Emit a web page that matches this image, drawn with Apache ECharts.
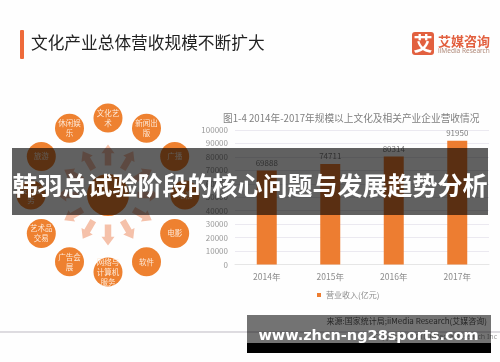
<!DOCTYPE html>
<html><head><meta charset="utf-8">
<style>html,body{margin:0;padding:0;background:#fff}#c{width:500px;height:362px;filter:blur(0.4px)}</style>
<script src="https://cdn.jsdelivr.net/npm/echarts@6/dist/echarts.min.js"></script>
</head><body><div id="c"></div>
<script>
const years=['2014年','2015年','2016年','2017年'];
const revenue=[69888,74711,80314,91950];
const yTicks={min:0,max:100000,interval:10000};
const sectors=['文化艺\n术','新闻出\n版','广播','电视','电影','软件','网络与\n计算机\n服务','广告会\n展','艺术品\n交易','设计服\n务','旅游','休闲娱\n乐'];
const ringRadius=[77,77,77,77,77,77,77,77,77,77,77,77];
const arrowRadius=[40,40,40,40,40,40,40,40,40,40,40,40];
const CJK='"Noto Sans CJK SC","Noto Sans",sans-serif';
const ARROW='path://M3.5 24 L3.5 10 L0 10 L7 0 L14 10 L10.5 10 L10.5 24 Z';
const chart=echarts.init(document.getElementById('c'),null,{renderer:'canvas'});
chart.setOption({
  animation:false,backgroundColor:'#fefefe',
  textStyle:{fontFamily:CJK},
  title:{text:'图1-4 2014年-2017年规模以上文化及相关产业企业营收情况',left:218,top:108,
    textStyle:{fontSize:9.7,fontWeight:'normal',color:'#808080',fontFamily:CJK}},
  grid:{left:235,right:11,top:130,bottom:97.5},
  xAxis:{type:'category',data:years,axisLine:{lineStyle:{color:'#e6e6e6'}},axisTick:{show:false},
    axisLabel:{color:'#8c8c8c',fontSize:8.5,margin:8}},
  yAxis:{type:'value',min:yTicks.min,max:yTicks.max,interval:yTicks.interval,axisLine:{show:false},axisTick:{show:false},
    splitLine:{lineStyle:{color:'#ebe9f0'}},axisLabel:{color:'#999',fontSize:8,margin:7,formatter:v=>String(v)}},
  legend:{data:['营业收入(亿元)'],left:312,top:286,itemWidth:4,itemHeight:4,itemGap:3,icon:'rect',
    textStyle:{color:'#8c8c8c',fontSize:8}},
  polar:{center:[108,195],radius:[0,100]},
  angleAxis:{type:'category',data:sectors,startAngle:105,clockwise:true,show:false},
  radiusAxis:{type:'value',min:0,max:100,show:false},
  series:[
    {name:'营业收入(亿元)',type:'bar',data:revenue,barWidth:20,itemStyle:{color:'#ed7d31'},
      label:{show:true,position:'top',color:'#808080',fontSize:8,distance:4}},
    {type:'scatter',coordinateSystem:'polar',symbol:ARROW,symbolSize:[13,21],
      data:arrowRadius.map((r,i)=>({value:[r,i],symbolRotate:-30*i})),
      itemStyle:{color:'#f5c1aa',opacity:1},silent:true,z:2},
    {type:'scatter',coordinateSystem:'polar',symbolSize:29,
      data:ringRadius.map((r,i)=>[r,i]),
      itemStyle:{color:'#ee8130',opacity:1},z:3,
      label:{show:true,position:'inside',color:'#fde8d6',fontSize:7.5,lineHeight:10,
        formatter:p=>sectors[p.dataIndex]}},
    {type:'scatter',coordinateSystem:'polar',symbolSize:42,data:[[0,0]],
      itemStyle:{color:'#ee8130',opacity:1},z:3}
  ],
  graphic:[
    {type:'rect',z:50,shape:{x:20,y:30,width:4,height:29,r:1},style:{fill:'#ee6a3a'}},
    {type:'text',z:50,style:{x:31,y:43,text:'文化产业总体营收规模不断扩大',font:'16.7px "Noto Sans CJK SC"',fill:'#222',textVerticalAlign:'middle'}},
    {type:'rect',z:50,shape:{x:412,y:32,width:22,height:23,r:3},style:{fill:'#e2603f'}},
    {type:'text',z:51,style:{x:423,y:43.5,text:'艾',font:'bold 19px "Noto Sans CJK SC"',fill:'#fff',textAlign:'center',textVerticalAlign:'middle'}},
    {type:'text',z:50,style:{x:438,y:41,text:'艾媒咨询',font:'bold 13px "Noto Sans CJK SC"',fill:'#e2603f',textVerticalAlign:'middle'}},
    {type:'text',z:50,style:{x:438,y:51,text:'iiMedia Research',font:'6.5px "Noto Sans"',fill:'#b08a7a',textVerticalAlign:'middle'}},
    {type:'line',z:49,shape:{x1:0,y1:332,x2:500,y2:332},style:{stroke:'#bdb9c2',lineWidth:1}},
    {type:'text',z:49,style:{x:497,y:336.5,text:'Copyright©2018 iiMedia Research Inc',font:'7px "Noto Sans"',fill:'#999',textAlign:'right',textVerticalAlign:'middle'}},
    {type:'text',z:49,style:{x:487,y:320.5,text:'来源:国家统计局;iiMedia Research(艾媒咨询)',font:'8px "Noto Sans CJK SC"',fill:'#555',textAlign:'right',textVerticalAlign:'middle'}},
    {type:'rect',z:60,shape:{x:12,y:148,width:476,height:67},style:{fill:'rgba(0,0,0,0.62)'}},
    {type:'text',z:61,style:{x:250,y:185,text:'韩羽总试验阶段的核心问题与发展趋势分析',font:'bold 25px "Noto Sans CJK SC"',fill:'#fff',textAlign:'center',textVerticalAlign:'middle'}},
    {type:'rect',z:60,shape:{x:247,y:315,width:244,height:28},style:{fill:'rgba(0,0,0,0.55)'}},
    {type:'rect',z:60,shape:{x:247,y:343,width:244,height:10},style:{fill:'#000'}},
    {type:'text',z:61,style:{x:368.5,y:336.5,text:'www.zhcn-ng28sports.com',font:'bold 14.5px "DejaVu Sans"',fill:'#fff',textAlign:'center',textVerticalAlign:'middle'}}
  ]
});
</script></body></html>
